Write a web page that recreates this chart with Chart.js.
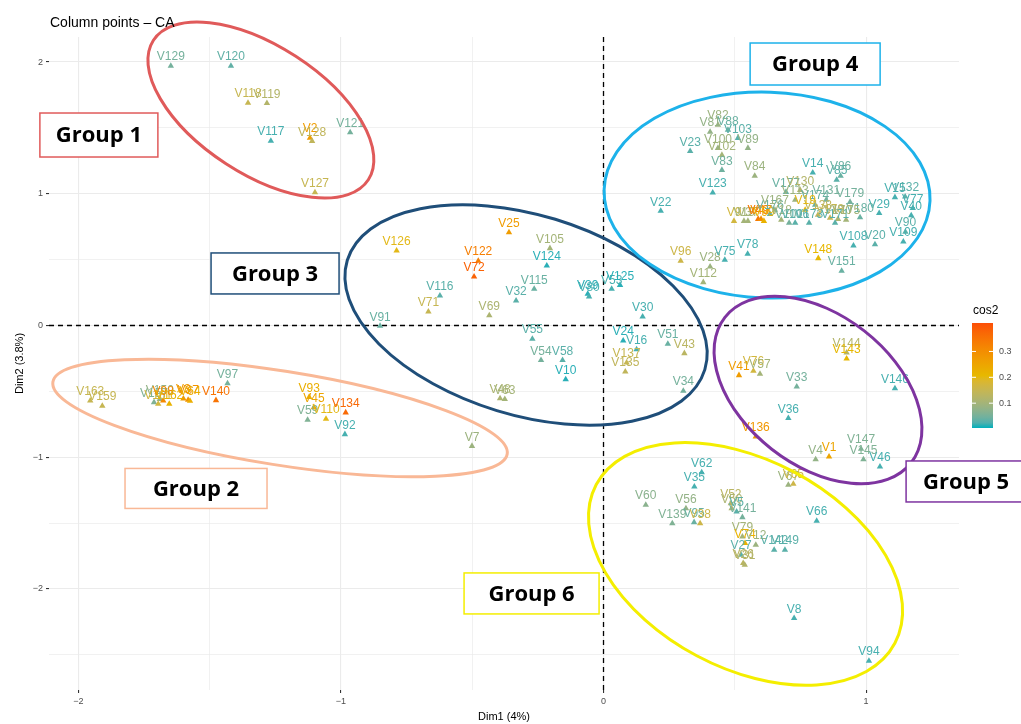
<!DOCTYPE html>
<html>
<head>
<meta charset="utf-8">
<script src="https://cdn.jsdelivr.net/npm/chart.js@4.4.1/dist/chart.umd.min.js"></script>
<style>
  html, body { margin: 0; padding: 0; background: #ffffff; }
  #wrap { width: 1021px; height: 724px; position: relative; }
  canvas { display: block; }
</style>
</head>
<body>
<div id="wrap"><canvas id="ca" width="1021" height="724"></canvas></div>
<script>
// Column points of the correspondence analysis (Dim1 / Dim2 coordinates and cos2 quality)
const pointNames = [
  'V129','V120','V118','V119','V117','V2','V128','V121','V127',
  'V126','V25','V122','V72','V105','V124','V116','V71','V69','V115','V32','V91','V39','V80','V53','V125','V30',
  'V55','V54','V58','V10','V48','V63','V7','V24','V16','V137','V135','V51','V43','V34',
  'V163','V159','V157','V150','V161','V98','V162','V3','V87','V64','V140','V97','V93','V45','V59','V110','V134','V92',
  'V22','V23','V123','V83','V84','V82','V81','V88','V103','V100','V89','V102','V96','V28','V75','V78','V112',
  'V14','V85','V86','V148','V151','V108','V20','V109','V90','V15','V132','V77','V40','V29','V180',
  'V9','V13','V37','V49','V47','V99','V176','V177','V130','V113','V18','V101','V106','V173','V138','V131',
  'V178','V179','V170','V171','V175','V174','V19','V167',
  'V41','V76','V57','V33','V144','V143','V146','V36','V136','V4','V1','V147','V145','V46',
  'V62','V35','V60','V56','V139','V95','V38','V67','V65','V52','V50','V5','V141','V79','V74','V12','V27','V26','V31',
  'V142','V149','V66','V8','V94'
];
const dim1 = [
  -1.648,-1.419,-1.354,-1.282,-1.267,-1.118,-1.110,-0.965,-1.099,
  -0.788,-0.360,-0.477,-0.493,-0.204,-0.216,-0.623,-0.667,-0.435,-0.264,-0.333,-0.851,-0.060,-0.055,0.031,0.063,0.149,
  -0.271,-0.238,-0.156,-0.144,-0.394,-0.376,-0.501,0.075,0.126,0.088,0.083,0.245,0.308,0.304,
  -1.955,-1.909,-1.712,-1.690,-1.696,-1.677,-1.654,-1.600,-1.582,-1.575,-1.476,-1.432,-1.121,-1.103,-1.127,-1.057,-0.982,-0.985,
  0.218,0.330,0.416,0.451,0.576,0.436,0.406,0.474,0.512,0.436,0.550,0.451,0.294,0.406,0.462,0.549,0.380,
  0.797,0.888,0.903,0.818,0.907,0.952,1.034,1.142,1.150,1.110,1.149,1.178,1.172,1.050,0.977,
  0.497,0.535,0.550,0.589,0.600,0.611,0.634,0.695,0.749,0.730,0.677,0.707,0.730,0.783,0.817,0.848,
  0.863,0.939,0.893,0.882,0.924,0.806,0.768,0.653,
  0.516,0.571,0.596,0.736,0.926,0.926,1.110,0.704,0.580,0.808,0.859,0.981,0.990,1.053,
  0.374,0.346,0.161,0.314,0.262,0.345,0.368,0.704,0.723,0.485,0.488,0.507,0.529,0.529,0.539,0.580,0.524,0.532,0.538,
  0.650,0.691,0.812,0.726,1.011
];
const dim2 = [
  1.970,1.970,1.689,1.688,1.401,1.424,1.400,1.466,1.010,
  0.568,0.707,0.490,0.371,0.586,0.454,0.226,0.105,0.077,0.277,0.188,-0.004,0.239,0.219,0.277,0.307,0.067,
  -0.102,-0.264,-0.264,-0.409,-0.553,-0.560,-0.915,-0.115,-0.181,-0.282,-0.350,-0.140,-0.211,-0.497,
  -0.571,-0.611,-0.583,-0.560,-0.596,-0.571,-0.596,-0.555,-0.565,-0.573,-0.568,-0.439,-0.543,-0.621,-0.717,-0.709,-0.661,-0.826,
  0.869,1.324,1.008,1.180,1.135,1.522,1.469,1.484,1.423,1.347,1.347,1.294,0.490,0.447,0.497,0.543,0.328,
  1.160,1.105,1.135,0.510,0.414,0.606,0.616,0.636,0.710,0.973,0.978,0.890,0.835,0.852,0.821,
  0.793,0.793,0.793,0.808,0.808,0.793,0.846,1.013,1.028,0.953,0.801,0.778,0.778,0.778,0.839,0.953,
  0.816,0.937,0.808,0.778,0.801,0.915,0.877,0.877,
  -0.378,-0.345,-0.368,-0.464,-0.206,-0.252,-0.477,-0.704,-0.844,-1.016,-0.996,-0.937,-1.016,-1.071,
  -1.115,-1.223,-1.362,-1.388,-1.502,-1.494,-1.502,-1.211,-1.203,-1.350,-1.388,-1.413,-1.456,-1.603,-1.653,-1.666,-1.742,-1.805,-1.818,
  -1.704,-1.704,-1.484,-2.222,-2.546
];
const cos2 = [
  0.05,0.035,0.15,0.12,0.02,0.27,0.14,0.05,0.15,
  0.20,0.27,0.33,0.38,0.10,0.01,0.03,0.15,0.11,0.04,0.03,0.04,0.01,0.02,0.02,0.01,0.02,
  0.03,0.05,0.03,0.01,0.11,0.10,0.09,0.01,0.02,0.15,0.14,0.04,0.13,0.05,
  0.15,0.15,0.06,0.08,0.17,0.31,0.22,0.27,0.29,0.23,0.35,0.05,0.23,0.25,0.06,0.20,0.37,0.02,
  0.02,0.03,0.02,0.045,0.09,0.09,0.08,0.04,0.03,0.09,0.08,0.10,0.16,0.09,0.02,0.02,0.10,
  0.02,0.03,0.04,0.21,0.04,0.02,0.03,0.02,0.03,0.02,0.03,0.02,0.02,0.02,0.04,
  0.17,0.10,0.10,0.34,0.30,0.22,0.04,0.04,0.12,0.09,0.10,0.05,0.03,0.03,0.14,0.05,
  0.15,0.05,0.11,0.03,0.10,0.04,0.20,0.09,
  0.27,0.17,0.10,0.05,0.12,0.21,0.02,0.02,0.28,0.08,0.25,0.06,0.06,0.02,
  0.02,0.02,0.07,0.08,0.06,0.04,0.16,0.09,0.16,0.13,0.11,0.03,0.05,0.10,0.22,0.09,0.03,0.13,0.12,
  0.03,0.03,0.02,0.02,0.02
];

// Axis breaks (majors are the integers, the halves are minor grid lines)
const xTickValues = [-2, -1.5, -1, -0.5, 0, 0.5, 1];
const yTickValues = [-2.5, -2, -1.5, -1, -0.5, 0, 0.5, 1, 1.5, 2];
const xLimits = [-2.112, 1.354];
const yLimits = [-2.767, 2.19];

// cos2 colour scale
const cos2Limits = [0.004, 0.41];
const cos2Ticks = [0.1, 0.2, 0.3];
const cos2Colours = ['#00AFBB', '#E7B800', '#FC4E07'];

// Hand-drawn groupings: ellipse centre in data units, semi-axes in Dim1 units, tilt in degrees
const groupNames = ['Group 1', 'Group 2', 'Group 3', 'Group 4', 'Group 5', 'Group 6'];
const groupColours = ['#E05A5A', '#F9B896', '#1F4E79', '#1DB2EA', '#7E34A0', '#F4EE00'];
const groupEllipses = [
  { cx: -1.305, cy: 1.636, a: 0.488, b: 0.244, tilt: 33 },
  { cx: -1.232, cy: -0.702, a: 0.876, b: 0.179, tilt: 9 },
  { cx: -0.295, cy: 0.080, a: 0.712, b: 0.381, tilt: 17 },
  { cx: 0.623, cy: 0.990, a: 0.621, b: 0.392, tilt: 2 },
  { cx: 0.817, cy: -0.490, a: 0.450, b: 0.286, tilt: 38 },
  { cx: 0.541, cy: -1.810, a: 0.644, b: 0.396, tilt: 28 }
];
const groupBoxes = [
  { cx: -1.922, cy: 1.446, w: 118, h: 44 },
  { cx: -1.552, cy: -1.237, w: 142, h: 40 },
  { cx: -1.251, cy: 0.395, w: 128, h: 41 },
  { cx: 0.806, cy: 1.985, w: 130, h: 42 },
  { cx: 1.381, cy: -1.184, w: 120, h: 41 },
  { cx: -0.274, cy: -2.034, w: 135, h: 41 }
];

// --- colour ramp interpolated in CIE Lab ---
function hexToRgb(h) {
  return [parseInt(h.slice(1, 3), 16), parseInt(h.slice(3, 5), 16), parseInt(h.slice(5, 7), 16)];
}
function srgbToLab(rgb) {
  const lin = rgb.map(c => { c /= 255; return c <= 0.04045 ? c / 12.92 : Math.pow((c + 0.055) / 1.055, 2.4); });
  const X = (lin[0] * 0.4124 + lin[1] * 0.3576 + lin[2] * 0.1805) / 0.95047;
  const Y = (lin[0] * 0.2126 + lin[1] * 0.7152 + lin[2] * 0.0722);
  const Z = (lin[0] * 0.0193 + lin[1] * 0.1192 + lin[2] * 0.9505) / 1.08883;
  const f = t => t > 0.008856 ? Math.cbrt(t) : 7.787 * t + 16 / 116;
  const fx = f(X), fy = f(Y), fz = f(Z);
  return [116 * fy - 16, 500 * (fx - fy), 200 * (fy - fz)];
}
function labToSrgb(lab) {
  const fy = (lab[0] + 16) / 116, fx = fy + lab[1] / 500, fz = fy - lab[2] / 200;
  const inv = t => t * t * t > 0.008856 ? t * t * t : (t - 16 / 116) / 7.787;
  const X = inv(fx) * 0.95047, Y = inv(fy), Z = inv(fz) * 1.08883;
  const r = X * 3.2406 + Y * -1.5372 + Z * -0.4986;
  const g = X * -0.9689 + Y * 1.8758 + Z * 0.0415;
  const b = X * 0.0557 + Y * -0.2040 + Z * 1.0570;
  return [r, g, b].map(c => {
    c = c <= 0.0031308 ? 12.92 * c : 1.055 * Math.pow(c, 1 / 2.4) - 0.055;
    return Math.round(Math.max(0, Math.min(1, c)) * 255);
  });
}
const rampLab = cos2Colours.map(h => srgbToLab(hexToRgb(h)));
function cos2Colour(v) {
  let t = (v - cos2Limits[0]) / (cos2Limits[1] - cos2Limits[0]);
  t = Math.max(0, Math.min(1, t));
  const seg = t < 0.5 ? 0 : 1;
  const f = seg === 0 ? t / 0.5 : (t - 0.5) / 0.5;
  const l0 = rampLab[seg], l1 = rampLab[seg + 1];
  const c = labToSrgb(l0.map((x, i) => x + (l1[i] - x) * f));
  return `rgb(${c[0]},${c[1]},${c[2]})`;
}
function fmtTick(v) {
  return v < 0 ? '\u2212' + Math.abs(v) : String(v);
}

const points = pointNames.map((n, i) => ({ x: dim1[i], y: dim2[i] }));
const pointColours = cos2.map(cos2Colour);

const refLines = {
  id: 'refLines',
  beforeDatasetsDraw(chart) {
    const { ctx, chartArea: ca, scales: { x, y } } = chart;
    ctx.save();
    ctx.strokeStyle = '#000';
    ctx.lineWidth = 1.3;
    ctx.setLineDash([5, 4]);
    const x0 = x.getPixelForValue(0), y0 = y.getPixelForValue(0);
    ctx.beginPath();
    ctx.moveTo(x0, ca.top); ctx.lineTo(x0, ca.bottom);
    ctx.moveTo(ca.left, y0); ctx.lineTo(ca.right, y0);
    ctx.stroke();
    ctx.restore();
  }
};

const pointLabels = {
  id: 'pointLabels',
  afterDatasetsDraw(chart) {
    const { ctx } = chart;
    const meta = chart.getDatasetMeta(0);
    ctx.save();
    ctx.font = '12px "Liberation Sans", Arial, sans-serif';
    ctx.textAlign = 'center';
    ctx.textBaseline = 'alphabetic';
    meta.data.forEach((el, i) => {
      ctx.fillStyle = pointColours[i];
      ctx.fillText(pointNames[i], el.x, el.y - 5.5);
    });
    ctx.restore();
  }
};

const groupShapes = {
  id: 'groupShapes',
  afterDatasetsDraw(chart) {
    const { ctx, scales: { x, y } } = chart;
    const pxPerUnit = x.getPixelForValue(1) - x.getPixelForValue(0);
    ctx.save();
    groupEllipses.forEach((e, i) => {
      ctx.beginPath();
      ctx.ellipse(x.getPixelForValue(e.cx), y.getPixelForValue(e.cy),
        e.a * pxPerUnit, e.b * pxPerUnit, e.tilt * Math.PI / 180, 0, Math.PI * 2);
      ctx.strokeStyle = groupColours[i];
      ctx.lineWidth = 3;
      ctx.stroke();
    });
    groupBoxes.forEach((b, i) => {
      const cx = x.getPixelForValue(b.cx), cy = y.getPixelForValue(b.cy);
      ctx.fillStyle = '#ffffff';
      ctx.fillRect(cx - b.w / 2, cy - b.h / 2, b.w, b.h);
      ctx.strokeStyle = groupColours[i];
      ctx.lineWidth = 1.5;
      ctx.strokeRect(cx - b.w / 2, cy - b.h / 2, b.w, b.h);
      ctx.fillStyle = '#000';
      ctx.font = 'bold 22px "Open Sans", Arial, sans-serif';
      ctx.textAlign = 'center';
      ctx.textBaseline = 'middle';
      ctx.fillText(groupNames[i], cx, cy + 1);
    });
    ctx.restore();
  }
};

const frameText = {
  id: 'frameText',
  afterDraw(chart) {
    const { ctx, chartArea: ca } = chart;
    ctx.save();
    // title
    ctx.fillStyle = '#000';
    ctx.font = '14px "Liberation Sans", Arial, sans-serif';
    ctx.textAlign = 'left';
    ctx.textBaseline = 'alphabetic';
    ctx.fillText('Column points \u2013 CA', ca.left + 1, 27);
    // axis titles
    ctx.font = '11px "Liberation Sans", Arial, sans-serif';
    ctx.textAlign = 'center';
    ctx.textBaseline = 'middle';
    ctx.fillText('Dim1 (4%)', (ca.left + ca.right) / 2, 717);
    ctx.save();
    ctx.translate(20, (ca.top + ca.bottom) / 2);
    ctx.rotate(-Math.PI / 2);
    ctx.fillText('Dim2 (3.8%)', 0, 0);
    ctx.restore();
    // colour bar
    const bx = 972, bw = 21, by = 323, bh = 105;
    const grad = ctx.createLinearGradient(0, by + bh, 0, by);
    for (let k = 0; k <= 20; k++) {
      const v = cos2Limits[0] + (cos2Limits[1] - cos2Limits[0]) * k / 20;
      grad.addColorStop(k / 20, cos2Colour(v));
    }
    ctx.fillStyle = grad;
    ctx.fillRect(bx, by, bw, bh);
    ctx.fillStyle = '#000';
    ctx.font = '12px "Liberation Sans", Arial, sans-serif';
    ctx.textAlign = 'left';
    ctx.textBaseline = 'alphabetic';
    ctx.fillText('cos2', bx + 1, 314);
    ctx.font = '9px "Liberation Sans", Arial, sans-serif';
    ctx.fillStyle = '#4D4D4D';
    ctx.textBaseline = 'middle';
    cos2Ticks.forEach(v => {
      const ty = by + bh - (v - cos2Limits[0]) / (cos2Limits[1] - cos2Limits[0]) * bh;
      ctx.strokeStyle = '#ffffff';
      ctx.lineWidth = 1;
      ctx.beginPath();
      ctx.moveTo(bx, ty); ctx.lineTo(bx + 4, ty);
      ctx.moveTo(bx + bw - 4, ty); ctx.lineTo(bx + bw, ty);
      ctx.stroke();
      ctx.fillText(v.toFixed(1), bx + bw + 6, ty);
    });
    ctx.restore();
  }
};

const isMajor = v => Math.abs(v - Math.round(v)) < 1e-9;

function axisOptions(limits, tickValues, fitFn) {
  return {
    type: 'linear',
    min: limits[0],
    max: limits[1],
    afterBuildTicks(axis) { axis.ticks = tickValues.map(v => ({ value: v })); },
    afterFit: fitFn,
    border: { display: false },
    grid: {
      color: '#EBEBEB',
      lineWidth: ctx => (ctx.tick && isMajor(ctx.tick.value)) ? 1.1 : 0.7,
      tickColor: ctx => (ctx.tick && isMajor(ctx.tick.value)) ? '#333333' : 'rgba(0,0,0,0)',
      tickLength: 3,
      drawTicks: true
    },
    ticks: {
      autoSkip: false,
      maxRotation: 0,
      color: '#4D4D4D',
      font: { size: 9, family: '"Liberation Sans", Arial, sans-serif' },
      padding: 3,
      callback: v => isMajor(v) ? fmtTick(v) : ''
    }
  };
}

new Chart(document.getElementById('ca'), {
  type: 'scatter',
  data: {
    datasets: [{
      data: points,
      pointStyle: 'triangle',
      pointRadius: 3.7,
      pointBorderWidth: 0,
      pointBackgroundColor: pointColours,
      pointBorderColor: pointColours
    }]
  },
  options: {
    responsive: false,
    animation: false,
    devicePixelRatio: 1,
    layout: { padding: { left: 0, top: 37, right: 62, bottom: 0 } },
    plugins: { legend: { display: false }, tooltip: { enabled: false }, title: { display: false } },
    scales: {
      x: axisOptions(xLimits, xTickValues, s => { s.height = 34; }),
      y: axisOptions(yLimits, yTickValues, s => { s.width = 49; })
    }
  },
  plugins: [refLines, pointLabels, groupShapes, frameText]
});
</script>
</body>
</html>
